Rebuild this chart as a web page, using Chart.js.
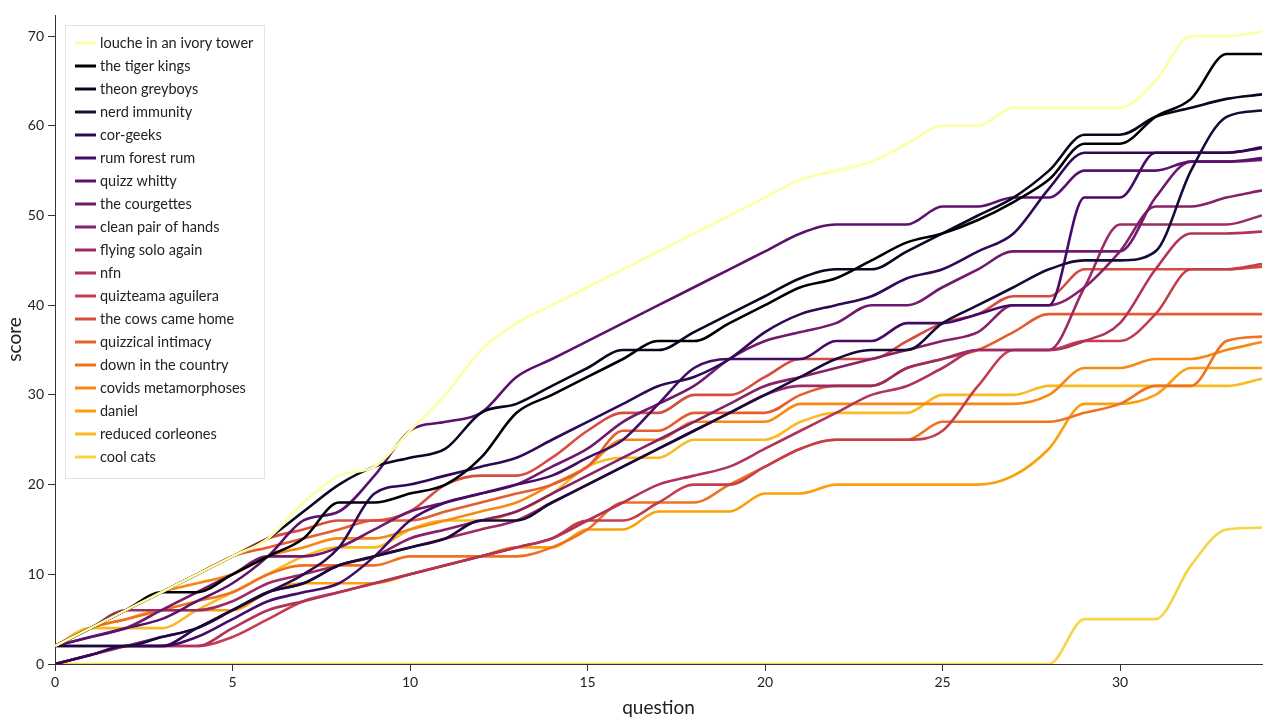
<!DOCTYPE html>
<html>
<head>
<meta charset="utf-8">
<script src="https://cdn.jsdelivr.net/npm/chart.js@4.4.1/dist/chart.umd.min.js"></script>
<style>
  html, body { margin: 0; padding: 0; background: #fff; }
  #wrap { width: 1277px; height: 725px; }
</style>
</head>
<body>
<div id="wrap"><canvas id="chart" width="1277" height="725"></canvas></div>
<script>
const questions = [0,1,2,3,4,5,6,7,8,9,10,11,12,13,14,15,16,17,18,19,20,21,22,23,24,25,26,27,28,29,30,31,32,33,34];

const teams = [
  "louche in an ivory tower", "the tiger kings", "theon greyboys", "nerd immunity",
  "cor-geeks", "rum forest rum", "quizz whitty", "the courgettes", "clean pair of hands",
  "flying solo again", "nfn", "quizteama aguilera", "the cows came home", "quizzical intimacy",
  "down in the country", "covids metamorphoses", "daniel", "reduced corleones", "cool cats"
];

// running score after each question
const louche     = [2,4,6,8,10,12,14,18,21,22,26,30,35,38,40,42,44,46,48,50,52,54,55,56,58,60,60,62,62,62,62,65,70,70,70.5];
const tigerKings = [2,4,6,8,8,10,12,14,18,18,19,20,23,28,30,32,34,36,36,38,40,42,43,45,47,48,49.5,51.5,54,58,58,61,63,68,68];
const theon      = [2,4,6,8,10,12,14,17,20,22,23,24,28,29,31,33,35,35,37,39,41,43,44,44,46,48,50,52,55,59,59,61,62,63,63.5];
const nerd       = [2,2,2,3,4,6,8,9,11,12,13,14,16,16,18,20,22,24,26,28,30,32,34,35,35,38,40,42,44,45,45,46,55,61,61.7];
const corGeeks   = [0,1,2,2,4,6,8,10,13,19,20,21,22,23,25,27,29,31,32,34,37,39,40,41,43,44,46,48,53,57,57,57,57,57,57.6];
const rumForest  = [2,2,2,2,3,5,7,8,9,12,16,18,19,20,21,23,25,29,33,34,34,34,36,36,38,38,39,40,40,52,52,57,57,57,57.5];
const quizzWhitty= [2,3,4,5,7,9,12,16,17,21,26,27,28,32,34,36,38,40,42,44,46,48,49,49,49,51,51,52,52,55,55,55,56,56,56.4];
const courgettes = [2,3,4,6,8,10,12,12,13,15,17,18,19,20,22,24,27,29,31,34,36,37,38,40,40,42,44,46,46,46,46,52,56,56,56.2];
const cleanPair  = [0,1,2,3,4,6,8,9,11,12,14,15,16,17,19,21,23,25,27,29,31,32,33,34,35,36,37,40,40,42,46,51,51,52,52.8];
const flyingSolo = [2,4,6,6,6,7,9,10,11,12,13,14,15,16,18,20,22,24,26,28,30,31,31,31,33,34,35,35,35,42,49,49,49,49,50];
const nfn        = [0,1,2,2,2,4,6,7,8,9,10,11,12,13,14,16,18,20,21,22,24,26,28,30,31,33,35,35,35,36,38,44,48,48,48.2];
const quizteama  = [0,1,2,2,2,3,5,7,8,9,10,11,12,13,14,16,16,18,20,20,22,24,25,25,25,26,31,35,35,36,36,39,44,44,44.6];
const cows       = [2,4,6,8,10,12,14,15,16,16,17,20,21,21,23,26,28,28,30,30,32,34,34,34,36,38,39,41,41,44,44,44,44,44,44.3];
const quizzical  = [2,4,6,8,10,12,13,14,15,16,16,17,18,19,20,22,26,26,28,28,28,30,31,31,33,34,35,37,39,39,39,39,39,39,39];
const downCountry= [2,4,5,6,7,8,10,11,11,11,12,12,12,12,13,15,18,18,18,20,22,24,25,25,25,27,27,27,27,28,29,31,31,36,36.5];
const covids     = [2,4,6,8,9,10,12,13,14,14,15,16,17,18,20,22,25,25,27,27,27,29,29,29,29,29,29,29,30,33,33,34,34,35,35.9];
const daniel     = [2,4,5,6,6,6,8,9,9,9,10,11,12,13,13,15,15,17,17,17,19,19,20,20,20,20,20,21,24,29,29,30,33,33,33];
const reduced    = [2,4,4,4,6,8,10,12,13,13,15,16,16,17,19,22,23,23,25,25,25,27,28,28,28,30,30,30,31,31,31,31,31,31,31.8];
const coolCats   = [0,0,0,0,0,0,0,0,0,0,0,0,0,0,0,0,0,0,0,0,0,0,0,0,0,0,0,0,0,5,5,5,11,15,15.2];

const scores = [louche, tigerKings, theon, nerd, corGeeks, rumForest, quizzWhitty, courgettes, cleanPair,
  flyingSolo, nfn, quizteama, cows, quizzical, downCountry, covids, daniel, reduced, coolCats];

const xTicks = [0, 5, 10, 15, 20, 25, 30];
const yTicks = [0, 10, 20, 30, 40, 50, 60, 70];

// inferno colour map stops
const inferno = ["#000004","#160b39","#420a68","#6a176e","#932667","#bc3754","#dd513a","#f37819","#fca50a","#f6d746","#fcffa4"];
function infernoAt(t) {
  const p = t * (inferno.length - 1);
  const i = Math.min(Math.floor(p), inferno.length - 2);
  const f = p - i;
  const a = inferno[i], b = inferno[i + 1];
  const c = k => Math.round(parseInt(a.substr(k, 2), 16) * (1 - f) + parseInt(b.substr(k, 2), 16) * f);
  return `rgb(${c(1)},${c(3)},${c(5)})`;
}
const colors = teams.map((_, i) => i === 0 ? infernoAt(1) : infernoAt((i - 1) / 19));

const FONT = "Lato, 'DejaVu Sans', sans-serif";

// legend drawn in a box inside the plot, top left
const legendBox = {
  id: "legendBox",
  afterDraw(chart) {
    const ctx = chart.ctx;
    const x = 65, y = 25, w = 199, h = 453;
    ctx.save();
    ctx.fillStyle = "rgba(255,255,255,0.92)";
    ctx.fillRect(x, y, w, h);
    ctx.strokeStyle = "#e4e4e4";
    ctx.lineWidth = 1;
    ctx.strokeRect(x + 0.5, y + 0.5, w, h);
    ctx.font = "14.5px " + FONT;
    ctx.textBaseline = "middle";
    chart.data.datasets.forEach((ds, i) => {
      const cy = y + 18 + i * 23;
      ctx.strokeStyle = ds.borderColor;
      ctx.lineWidth = 3;
      ctx.beginPath();
      ctx.moveTo(75, cy);
      ctx.lineTo(96, cy);
      ctx.stroke();
      ctx.fillStyle = "#222";
      ctx.fillText(ds.label, 100, cy);
    });
    ctx.restore();
  }
};

new Chart(document.getElementById("chart"), {
  type: "line",
  data: {
    datasets: teams.map((name, i) => ({
      label: name,
      data: questions.map((q, j) => ({ x: q, y: scores[i][j] })),
      borderColor: colors[i],
      backgroundColor: colors[i],
      borderWidth: 2.6,
      pointRadius: 0,
      cubicInterpolationMode: "monotone",
      fill: false
    }))
  },
  options: {
    responsive: false,
    animation: false,
    layout: { padding: { top: 15, right: 15, left: 0, bottom: 0 } },
    plugins: {
      legend: { display: false },
      tooltip: { enabled: false }
    },
    scales: {
      x: {
        type: "linear",
        min: 0,
        max: 34,
        afterFit: s => { s.height = 61; },
        afterBuildTicks: s => { s.ticks = xTicks.map(v => ({ value: v })); },
        grid: { drawOnChartArea: false, drawTicks: true, tickLength: 7, color: "#333" },
        border: { display: true, color: "#333", width: 1 },
        ticks: { color: "#222", font: { size: 14, family: FONT }, padding: 3 },
        title: { display: true, text: "question", color: "#222", font: { size: 19, family: FONT }, padding: { top: 0, bottom: 6 } }
      },
      y: {
        min: 0,
        max: 72.35,
        afterFit: s => { s.width = 55; },
        afterBuildTicks: s => { s.ticks = yTicks.map(v => ({ value: v })); },
        grid: { drawOnChartArea: false, drawTicks: true, tickLength: 7, color: "#333" },
        border: { display: true, color: "#333", width: 1 },
        ticks: { color: "#222", font: { size: 14, family: FONT }, padding: 4 },
        title: { display: true, text: "score", color: "#222", font: { size: 19, family: FONT }, padding: { top: 3, bottom: 0 } }
      }
    }
  },
  plugins: [legendBox]
});
</script>
</body>
</html>
